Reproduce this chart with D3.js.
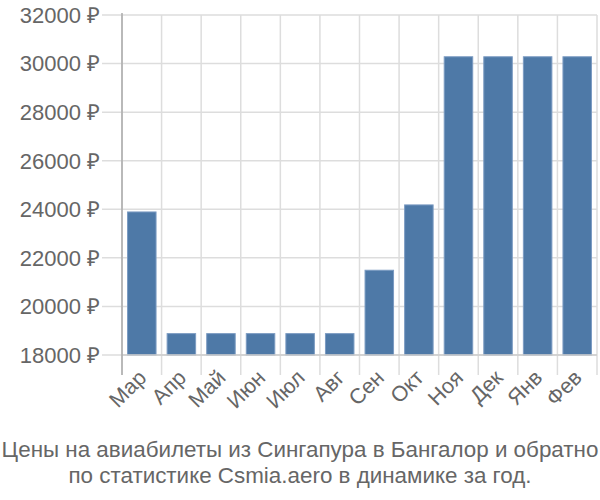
<!DOCTYPE html>
<html><head><meta charset="utf-8">
<script src="https://cdn.jsdelivr.net/npm/d3@7"></script>
<style>body{margin:0;background:#fff}svg{display:block}</style>
</head><body>
<svg id="c" width="600" height="500"></svg>
<script>
const months = ["Мар","Апр","Май","Июн","Июл","Авг","Сен","Окт","Ноя","Дек","Янв","Фев"];
const prices = [23890, 18880, 18880, 18880, 18880, 18880, 21490, 24180, 30280, 30280, 30280, 30280];
const yTicks = [18000, 20000, 22000, 24000, 26000, 28000, 30000, 32000];
const titleLines = ["Цены на авиабилеты из Сингапура в Бангалор и обратно", "по статистике Csmia.aero в динамике за год."];

const svg = d3.select("#c");
const L = 122, R = 597, T = 15, B = 355;
const x = d3.scaleBand().domain(months).range([L, R]).paddingInner(0.28).paddingOuter(0.14);
const xb = d3.scaleBand().domain(months).range([L, R]);
const y = d3.scaleLinear().domain([18000, 32000]).range([B, T]);
const font = "'Liberation Sans', Arial, sans-serif";

// horizontal grid
svg.append("g").selectAll("line").data(yTicks).join("line")
  .attr("x1", 102).attr("x2", R).attr("y1", d => y(d)).attr("y2", d => y(d))
  .attr("stroke", "#dddddd").attr("stroke-width", 1.5);
// vertical grid
const vx = months.map(m => xb(m)).concat([R]);
svg.append("g").selectAll("line").data(vx).join("line")
  .attr("x1", d => d).attr("x2", d => d).attr("y1", T).attr("y2", 375)
  .attr("stroke", "#dddddd").attr("stroke-width", 1.5);

// bars
svg.append("g").selectAll("rect").data(prices).join("rect")
  .attr("x", (d, i) => x(months[i])).attr("width", x.bandwidth())
  .attr("y", d => y(d)).attr("height", d => B - y(d))
  .attr("fill", "#4e79a7").attr("stroke", "#7b9bc2").attr("stroke-width", 1);

// axes lines
svg.append("line").attr("x1", L).attr("x2", R).attr("y1", B).attr("y2", B)
  .attr("stroke", "#cccccc").attr("stroke-width", 1.5);
svg.append("line").attr("x1", L).attr("x2", L).attr("y1", T - 2).attr("y2", 375)
  .attr("stroke", "#aaaaaa").attr("stroke-width", 1.5);

// y labels
svg.append("g").selectAll("text").data(yTicks).join("text")
  .attr("x", 100).attr("y", d => y(d)).attr("dy", "0.36em")
  .attr("text-anchor", "end").attr("font-family", font).attr("font-size", 22)
  .attr("fill", "#666").text(d => d + " ₽");

// x labels
svg.append("g").selectAll("text").data(months).join("text")
  .attr("transform", m => `translate(${xb(m) + xb.bandwidth() / 2 + 6},${379}) rotate(-45)`)
  .attr("text-anchor", "end").attr("font-family", font).attr("font-size", 21.5)
  .attr("fill", "#666").text(m => m);

// title
svg.append("g").selectAll("text").data(titleLines).join("text")
  .attr("x", 300).attr("y", (d, i) => 457 + i * 26)
  .attr("text-anchor", "middle").attr("font-family", font).attr("font-size", 22.4)
  .attr("fill", "#666").text(d => d);
</script>
</body></html>
